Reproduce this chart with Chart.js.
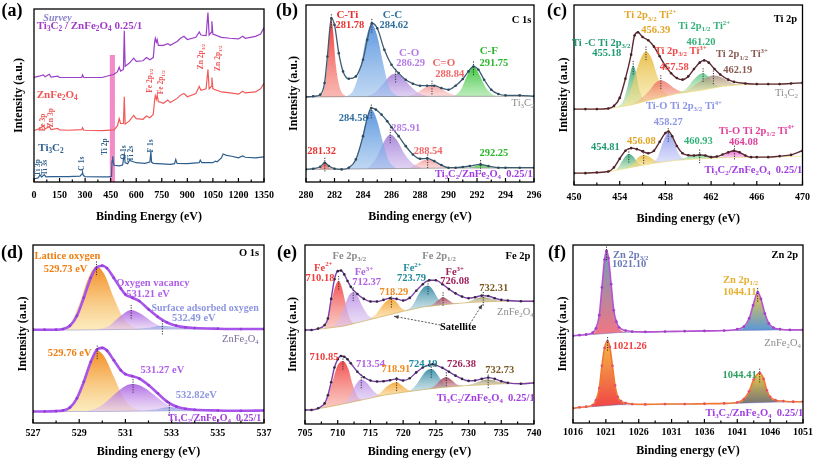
<!DOCTYPE html>
<html><head><meta charset="utf-8">
<script src="https://cdn.jsdelivr.net/npm/chart.js@4.4.1/dist/chart.umd.min.js"></script>
<style>
html,body{margin:0;padding:0;background:#fff;}
#wrap{position:relative;width:817px;height:464px;overflow:hidden;background:#fff;}
#wrap canvas{position:absolute;left:0;top:0;}
</style></head><body><div id="wrap">
<canvas id="pa" width="817" height="464"></canvas>
<canvas id="pb" width="817" height="464"></canvas>
<canvas id="pc" width="817" height="464"></canvas>
<canvas id="pd" width="817" height="464"></canvas>
<canvas id="pe" width="817" height="464"></canvas>
<canvas id="pf" width="817" height="464"></canvas>
</div>
<script>
// ---------------- DATA ----------------
// (a) survey
const aTicks=[0,150,300,450,600,750,900,1050,1200,1350];
const aMinor=[75,225,375,525,675,825,975,1125,1275];
const aE_T=[0,20,25,35,45,60,70,100,200,270,282,285,290,300,400,440,455,458,462,466,470,500,520,530,535,550,563,570,600,650,680,686,690,700,800,825,832,840,900,970,976,985,1050,1065,1075,1100,1110,1130,1160,1200,1225,1240,1300,1350];
const aY_T=[10,12,13,22,15,23,16,17,17,18,25,30,20,17,16,16,18,65,80,60,52,50,53,85,60,57,70,65,60,58,62,95,62,58,55,57,70,58,57,60,68,60,60,65,63,75,87,83,80,75,81,77,75,78];
const aE_ZC=[0,30,55,65,90,100,140,150,200,280,285,292,400,470,490,500,508,525,530,535,560,585,600,640,660,680,700,708,712,718,723,730,760,785,800,840,860,880,900,950,970,980,1010,1021,1028,1040,1044,1050,1100,1150,1200,1225,1240,1300,1330,1350];
const aY_Z=[160,165,175,165,173,163,167,162,161,163,169,161,160,162,175,197,182,182,265,180,190,207,197,195,205,200,210,255,268,257,270,250,245,255,247,260,270,275,265,275,297,285,290,350,290,297,325,290,280,277,273,282,277,280,290,307];
const aY_C=[325,329,333,327,335,326,329,325,325,325,333,325,325,335,343,357,345,350,470,360,370,385,375,377,387,380,387,435,447,435,443,425,425,430,425,437,447,453,443,450,467,457,455,527,457,465,500,460,450,447,445,453,447,453,460,480];
const aBand=[445,475];

// (b) C 1s
const bTicks=[280,282,284,286,288,290,292,294,296];
const bMinor=[281,283,285,287,289,291,293,295];
const bTopX=[280,280.5,281,281.3,281.5,281.78,282,282.3,282.6,283,283.5,284,284.3,284.62,285,285.5,286,286.5,287,287.5,288,288.5,289,289.5,290,290.5,291,291.4,291.75,292.1,292.5,293,293.5,294,295,296];
const bTopY=[256,258,263,298,378,493,473,388,333,311,318,368,428,478,463,398,353,328,308,296,290,290,290,283,278,290,310,333,348,338,308,278,265,261,261,258];
const bBotX=[280,280.5,281,281.32,281.6,282,282.5,283,283.5,284,284.3,284.58,284.9,285.3,285.7,286,286.5,287,287.5,288,288.5,289,289.5,290,290.5,291,291.5,292.25,292.8,293.5,294,295,296];
const bBotY=[38,40,46,58,48,40,38,43,68,138,193,223,218,203,183,165,138,108,83,70,71,63,51,43,43,45,48,53,48,43,43,43,43];
const bTopBg=[[280,256],[283,257],[290,258],[296,258]];
const bBotBg=[[280,38],[283,39],[290,42],[296,42]];
const bT_CTi=[[280.9,256],[281.2,270],[281.45,340],[281.65,455],[281.78,490],[281.9,455],[282.1,350],[282.4,280],[282.8,258]];
const bT_CC=[[282.8,257],[283.3,275],[283.8,340],[284.2,430],[284.62,476],[285.0,440],[285.4,360],[285.8,290],[286.3,262],[286.8,257]];
const bT_CO=[[284.2,257],[284.8,268],[285.4,295],[285.9,320],[286.29,326],[286.8,315],[287.3,290],[287.9,268],[288.6,258]];
const bT_CdO=[[287.2,258],[287.8,268],[288.4,285],[288.84,290],[289.3,285],[289.9,270],[290.6,259]];
const bT_CF=[[290.4,258],[290.9,280],[291.3,320],[291.75,348],[292.2,320],[292.6,285],[293.1,263],[293.6,258]];
const bB_CTi=[[280.8,38],[281.1,45],[281.32,58],[281.55,45],[281.85,39]];
const bB_CC=[[282.7,39],[283.3,55],[283.8,110],[284.2,180],[284.58,218],[284.95,190],[285.4,120],[285.8,65],[286.3,42]];
const bB_CO=[[284.3,40],[284.9,70],[285.4,115],[285.91,143],[286.4,125],[286.9,85],[287.5,55],[288.1,42]];
const bB_CdO=[[287.2,41],[287.8,55],[288.2,65],[288.54,68],[288.9,64],[289.4,52],[290.0,42]];
const bB_CF=[[291.4,42],[291.9,48],[292.25,51],[292.6,48],[293.1,42]];

// (c) Ti 2p
const cTicks=[450,454,458,462,466,470];
const cMinor=[452,456,460,464,468];
const cTopX=[450,451,452,453,453.5,454,454.5,455,455.3,455.6,456,456.5,457,457.5,458,458.5,459,459.5,460,460.5,461,461.4,461.8,462.3,462.8,463.5,464,465,466,467,468,469,470];
const cTopY=[237,237,237,239,247,272,332,407,467,477,462,452,432,402,372,349,334,329,339,362,382,389,382,362,345,329,322,317,315,315,315,317,319];
const cBotX=[450,451,452,453,453.5,454,454.5,455,455.5,456,456.5,457,457.5,458,458.27,458.6,459,459.5,460,460.5,461,461.5,462,462.5,463,463.5,464,464.5,465,465.5,466,467,468,469,470];
const cBotY=[37,37,39,42,55,82,107,115,112,105,99,107,135,162,167,152,122,99,93,92,94,92,87,89,95,102,107,102,92,87,87,87,90,94,107];
const cTopBg=[[450,237],[453,238],[455,250],[457,268],[459,285],[461,295],[463,308],[465,314],[470,318]];
const cBotBg=[[450,37],[453,41],[455,55],[457,68],[459,77],[461,82],[463,85],[466,87],[470,90]];
const cT_TiC=[[453.8,244],[454.3,262],[454.7,310],[455.0,360],[455.18,372],[455.4,355],[455.7,300],[456.1,268],[456.5,263]];
const cT_Ti2=[[454.2,245],[454.8,280],[455.4,350],[455.9,400],[456.3,417],[456.8,395],[457.3,340],[457.8,295],[458.3,280]];
const cT_Ti3=[[455.0,250],[455.8,268],[456.6,295],[457.1,318],[457.6,327],[458.2,318],[458.8,302],[459.5,292],[460.2,292]];
const cT_Ti2b=[[459.0,286],[459.8,300],[460.5,330],[461.0,346],[461.3,349],[461.7,340],[462.3,315],[462.9,308],[463.4,310]];
const cT_Ti3b=[[459.6,290],[460.5,310],[461.3,330],[461.8,339],[462.2,342],[462.8,338],[463.5,325],[464.2,315],[464.9,314]];
const cB_TiC=[[453.6,44],[454.0,62],[454.4,85],[454.8,97],[455.2,88],[455.6,68],[456.0,61]];
const cB_Ti2=[[454.6,52],[455.2,68],[455.7,88],[456.1,94],[456.6,88],[457.1,76],[457.7,71]];
const cB_Ti4=[[456.8,67],[457.3,85],[457.8,135],[458.25,162],[458.7,140],[459.2,95],[459.8,80]];
const cB_Ti2b=[[458.8,77],[459.6,83],[460.3,92],[461.0,95],[461.7,93],[462.5,88],[463.4,86]];
const cB_Ti4b=[[462.4,84],[463.0,90],[463.6,103],[464.05,107],[464.6,100],[465.2,90],[465.9,87]];

// (d) O 1s
const dTicks=[527,529,531,533,535,537];
const dMinor=[528,530,532,534,536];
const dTopX=[527,527.5,528,528.3,528.6,528.9,529.2,529.5,529.73,530,530.2,530.5,530.8,531,531.3,531.6,532,532.4,532.8,533.2,533.6,534,535,536,537];
const dTopY=[283,283,283,285,295,325,380,440,470,477,470,440,408,390,380,370,345,322,305,295,290,288,286,285,285];
const dBotX=[527,527.5,528,528.3,528.6,528.9,529.2,529.5,529.76,530,530.2,530.5,530.8,531,531.3,531.6,532,532.4,532.8,533.2,533.6,534,535,536,537];
const dBotY=[35,35,36,38,47,75,125,185,222,228,220,190,160,148,142,135,115,90,65,50,43,40,38,37,38];
const dTopBg=[[527,282],[529,282],[531,284],[533,285],[537,285]];
const dBotBg=[[527,35],[530,35],[533,37],[537,38]];
const dT_Lat=[[528.2,282],[528.6,300],[529.0,360],[529.4,440],[529.75,475],[530.1,450],[530.5,380],[530.9,320],[531.3,292],[531.7,284]];
const dT_Vac=[[529.8,283],[530.3,295],[530.8,325],[531.25,343],[531.7,330],[532.2,305],[532.7,290],[533.2,285]];
const dT_Sur=[[531.3,284],[531.9,288],[532.6,295],[533.3,290],[534.0,286]];
const dB_Lat=[[528.3,35],[528.7,55],[529.1,115],[529.45,185],[529.78,220],[530.1,200],[530.5,140],[530.9,80],[531.3,47],[531.7,37]];
const dB_Vac=[[529.3,35],[529.9,50],[530.5,85],[531.0,112],[531.33,118],[531.8,108],[532.3,82],[532.9,52],[533.6,38]];
const dB_Sur=[[531.6,36],[532.2,40],[532.9,48],[533.6,42],[534.4,38]];

// (e) Fe 2p
const eTicks=[705,710,715,720,725,730,735,740];
const eMinor=[707.5,712.5,717.5,722.5,727.5,732.5,737.5];
const eTopX=[705,706,707,708,708.5,709,709.5,710,710.5,711,711.5,712,713,714,715,716,717,718,719,720,721,722,723,724,725,726,727,728,729,730,731,732,733,734,735,736,738,740];
const eTopY=[288,288,292,303,323,383,443,468,470,458,438,420,398,383,375,375,380,385,383,378,386,408,428,440,440,428,413,400,390,385,388,393,392,385,380,378,376,376];
const eBotX=[705,706,707,708,708.5,709,709.5,710,710.5,711,711.5,712,713,714,715,716,717,718,719,720,721,722,723,724,724.5,725,726,727,728,729,730,731,732,733,734,735,736,738,740];
const eBotY=[43,43,48,63,88,128,173,198,208,206,198,186,160,143,133,130,131,134,138,133,140,158,173,181,183,180,172,160,148,138,132,133,138,142,138,131,126,123,126];
const eTopBg=[[705,288],[708,292],[711,300],[714,315],[717,330],[720,345],[723,358],[726,365],[730,372],[735,376],[740,376]];
const eBotBg=[[705,43],[708,50],[711,62],[714,75],[717,88],[720,97],[723,105],[726,112],[730,118],[735,123],[740,126]];
const eT_Fe2=[[707.8,292],[708.5,320],[709.2,390],[709.8,430],[710.15,438],[710.6,420],[711.2,370],[711.8,325],[712.5,306]];
const eT_Fe3=[[709.3,296],[710.2,320],[711.0,360],[711.7,393],[712.37,403],[713.0,393],[713.8,360],[714.8,330],[716.0,324]];
const eT_Sat=[[714.8,319],[715.8,335],[716.8,362],[717.6,378],[718.2,383],[718.9,375],[719.7,355],[720.5,348],[721.2,350]];
const eT_Fe2b=[[720.4,347],[721.4,362],[722.3,395],[723.1,418],[723.8,423],[724.5,412],[725.3,385],[726.0,368],[726.7,366]];
const eT_Fe3b=[[723.6,359],[724.5,365],[725.3,378],[726.1,388],[726.9,380],[727.8,370],[728.7,370]];
const eT_Satb=[[729.4,371],[730.4,378],[731.4,386],[732.25,389],[733.2,385],[734.2,379],[735.3,376]];
const eB_Fe2=[[707.5,49],[708.3,70],[709.2,130],[710.0,180],[710.8,193],[711.6,170],[712.3,120],[713.0,85],[713.7,73]];
const eB_Fe3=[[710.8,61],[711.7,80],[712.6,115],[713.6,136],[714.5,125],[715.5,100],[716.4,89],[717.2,89]];
const eB_Sat=[[715.4,81],[716.5,95],[717.5,115],[718.3,125],[719.0,128],[719.8,118],[720.7,105],[721.5,101]];
const eB_Fe2b=[[721.0,100],[722.0,120],[723.0,150],[723.7,165],[724.3,168],[725.0,158],[725.8,135],[726.7,117],[727.6,115]];
const eB_Fe3b=[[724.0,107],[725.0,120],[725.9,138],[726.6,143],[727.4,135],[728.3,120],[729.2,117]];
const eB_Satb=[[729.7,118],[730.8,124],[731.9,132],[733.0,136],[734.1,132],[735.2,126],[736.5,124]];

// (f) Zn 2p
const fTicks=[1016,1021,1026,1031,1036,1041,1046,1051];
const fMinor=[1018.5,1023.5,1028.5,1033.5,1038.5,1043.5,1048.5];
const fTopX=[1016,1017,1018,1019,1019.5,1020,1020.4,1020.8,1021.1,1021.4,1021.8,1022.2,1022.6,1023,1024,1025,1027,1030,1033,1036,1039,1041,1042,1042.8,1043.4,1044.11,1044.6,1045.2,1045.8,1046.5,1047.5,1049,1051];
const fTopY=[267,269,271,277,290,330,415,500,527,505,425,345,310,293,283,280,279,280,281,282,283,287,295,320,360,400,380,335,305,292,287,285,285];
const fBotX=[1016,1017,1018,1019,1019.5,1020,1020.4,1020.8,1021.26,1021.6,1022,1022.4,1022.8,1023.3,1024,1025,1027,1030,1033,1036,1039,1041,1042,1042.8,1043.5,1044.41,1045,1045.5,1046,1046.8,1048,1049.5,1051];
const fBotY=[45,48,50,55,70,107,175,230,250,233,175,115,80,67,61,58,57,58,58,59,60,63,73,97,133,153,135,100,80,70,67,65,65];
const fTopBg=[[1016,267],[1019,271],[1023,277],[1030,279],[1040,283],[1047,285],[1051,285]];
const fBotBg=[[1016,45],[1019,50],[1023,56],[1030,57],[1040,60],[1047,64],[1051,65]];
const fT_Zn3=[[1018.8,272],[1019.5,285],[1020.0,325],[1020.4,410],[1020.8,495],[1021.1,525],[1021.4,500],[1021.8,420],[1022.2,340],[1022.6,305],[1023.2,285],[1024.0,279]];
const fT_Zn1=[[1041.2,285],[1042.0,292],[1042.8,318],[1043.4,358],[1044.1,398],[1044.6,378],[1045.2,333],[1045.8,303],[1046.5,290],[1047.3,287]];
const fB_Zn3=[[1018.8,51],[1019.5,68],[1020.0,105],[1020.4,172],[1020.8,228],[1021.26,248],[1021.6,231],[1022.0,173],[1022.4,113],[1022.8,78],[1023.3,64],[1024.0,58]];
const fB_Zn1=[[1041.2,61],[1042.0,71],[1042.8,95],[1043.5,131],[1044.41,151],[1045.0,133],[1045.5,98],[1046.0,78],[1046.8,68],[1047.5,65]];

// ---------------- HELPERS ----------------
const FAM="'Liberation Serif','Times New Roman',Times,serif";
Chart.defaults.font.family=FAM;
const COMPOSITE='Ti_{3}C_{2}/ZnFe_{2}O_{4}  0.25/1';

function parseRich(t){const out=[];let i=0,buf='';
  while(i<t.length){const ch=t[i];
    if((ch==='_'||ch==='^')&&t[i+1]==='{'){if(buf){out.push({s:buf,m:0});buf='';}
      const j=t.indexOf('}',i+2);out.push({s:t.slice(i+2,j),m:ch==='_'?1:2});i=j+1;}
    else{buf+=ch;i++;}}
  if(buf)out.push({s:buf,m:0});return out;}
function drawRich(ctx,t,x,y,size,color,o){
  o=o||{};const segs=parseRich(t);
  const w=o.b===false?'':'bold ';const it=o.i?'italic ':'';
  const f0=it+w+size+'px '+FAM, f1=it+w+(size*0.66).toFixed(1)+'px '+FAM;
  let tot=0;segs.forEach(s=>{ctx.font=s.m?f1:f0;s.w=ctx.measureText(s.s).width;tot+=s.w;});
  ctx.save();ctx.translate(x,y);if(o.rot)ctx.rotate(o.rot*Math.PI/180);
  let cx=o.a==='left'?0:o.a==='right'?-tot:-tot/2;
  ctx.fillStyle=color;ctx.textBaseline='middle';
  segs.forEach(s=>{ctx.font=s.m?f1:f0;const dy=s.m===1?size*0.3:s.m===2?-size*0.32:0;ctx.fillText(s.s,cx,dy);cx+=s.w;});
  ctx.restore();}

function makeDecor(D){return{
  id:'decor',
  beforeDatasetsDraw(chart){const {ctx,chartArea:ca,scales:{x,y}}=chart;
    if(D.band){ctx.save();ctx.fillStyle='rgba(240,110,185,0.8)';
      const x1=x.getPixelForValue(D.band[0]),x2=x.getPixelForValue(D.band[1]),yt=y.getPixelForValue(D.bandTop);
      ctx.fillRect(x1,yt,x2-x1,ca.bottom-yt);ctx.restore();}},
  afterDatasetsDraw(chart){const {ctx,chartArea:ca,scales:{x,y}}=chart;ctx.save();
    chart.data.datasets.forEach(ds=>{if(!ds.mark)return;let m=ds.data[0];ds.data.forEach(p=>{if(p.y>m.y)m=p;});
      const px=x.getPixelForValue(m.x),py=y.getPixelForValue(m.y);
      ctx.strokeStyle='#333';ctx.lineWidth=1;ctx.setLineDash([1.2,1.3]);ctx.beginPath();ctx.moveTo(px,py-5);ctx.lineTo(px,py+9);ctx.stroke();});
    ctx.setLineDash([]);
    (D.arrows||[]).forEach(a=>{const x1=x.getPixelForValue(a[0]),y1=y.getPixelForValue(a[1]),x2=x.getPixelForValue(a[2]),y2=y.getPixelForValue(a[3]);
      ctx.strokeStyle='#444';ctx.fillStyle='#444';ctx.lineWidth=0.9;ctx.setLineDash([2,1.5]);
      ctx.beginPath();ctx.moveTo(x1,y1);ctx.lineTo(x2,y2);ctx.stroke();ctx.setLineDash([]);
      const ang=Math.atan2(y2-y1,x2-x1);ctx.beginPath();ctx.moveTo(x2,y2);
      ctx.lineTo(x2-5*Math.cos(ang-0.4),y2-5*Math.sin(ang-0.4));ctx.lineTo(x2-5*Math.cos(ang+0.4),y2-5*Math.sin(ang+0.4));ctx.closePath();ctx.fill();});
    ctx.strokeStyle='#000';ctx.lineWidth=1.3;ctx.strokeRect(ca.left,ca.top,ca.right-ca.left,ca.bottom-ca.top);
    ctx.lineWidth=1.2;
    D.major.forEach(v=>{const px=x.getPixelForValue(v);ctx.beginPath();ctx.moveTo(px,ca.bottom);ctx.lineTo(px,ca.bottom-4);ctx.stroke();});
    D.minor.forEach(v=>{const px=x.getPixelForValue(v);ctx.beginPath();ctx.moveTo(px,ca.bottom);ctx.lineTo(px,ca.bottom-2.5);ctx.stroke();});
    (D.labels||[]).forEach(L=>drawRich(ctx,L.t,x.getPixelForValue(L.x),y.getPixelForValue(L.y),L.s||10.5,L.c||'#000',L));
    drawRich(ctx,D.letter[0],D.letter[1],D.letter[2],18,'#000',{});
    ctx.restore();}};}

const pts=(xs,ys)=>xs.map((x,i)=>({x,y:ys[i]}));
const pairs=a=>a.map(p=>({x:p[0],y:p[1]}));
function rawDs(xs,ys,col,ptCol,bw,pr){return{data:pts(xs,ys),borderColor:col,borderWidth:bw,pointRadius:pr,pointBackgroundColor:ptCol,pointBorderWidth:0,fill:false,cubicInterpolationMode:'monotone'};}
function lineDs(xs,ys,col,bw){return{data:pts(xs,ys),borderColor:col,borderWidth:bw,pointRadius:0,fill:false,tension:0};}
function bgDs(a,col){return{data:pairs(a),borderColor:col||'rgba(70,70,70,0.55)',borderWidth:0.8,pointRadius:0,fill:false,tension:0};}
function grad(top,bot){return(c)=>{const ch=c.chart;if(!ch.chartArea||!c.dataset)return top;
  const ys=c.dataset.data.map(p=>p.y);const yT=ch.scales.y.getPixelForValue(Math.max(...ys)),yB=ch.scales.y.getPixelForValue(Math.min(...ys));
  const g=ch.ctx.createLinearGradient(0,yT,0,yB+1);g.addColorStop(0,top);g.addColorStop(1,bot);return g;};}
function compDs(a,top,bot,target,line){return{data:pairs(a),borderColor:line||'rgba(0,0,0,0)',borderWidth:0.7,pointRadius:0,fill:{target},backgroundColor:grad(top,bot),cubicInterpolationMode:'monotone',mark:true};}

function makePanel(id,P){
  const TF=10,XF=12,YF=12;const R=P.rect;
  const p=Math.max(0,P.tickCY-R.b-TF/2);
  const tpt=Math.max(0,P.titleCY-(R.b+p+TF)-XF/2);
  const xAxisH=p+TF+tpt+XF;
  const ypb=Math.max(0,R.l-P.yTitleCX-YF/2);
  const yW=YF+ypb;
  new Chart(document.getElementById(id),{type:'line',data:{datasets:P.datasets},
    options:{responsive:false,animation:false,events:[],
      layout:{padding:{left:R.l-yW,right:817-R.r,top:R.t,bottom:464-R.b-xAxisH}},
      plugins:{legend:{display:false},tooltip:{enabled:false}},
      scales:{
        x:{type:'linear',min:P.xr[0],max:P.xr[1],afterBuildTicks:s=>{s.ticks=P.decor.major.map(v=>({value:v}));},
          grid:{display:false,drawTicks:false},border:{display:false},
          ticks:{padding:p,autoSkip:false,maxRotation:0,color:'#000',font:{family:FAM,size:TF,weight:'bold',lineHeight:1},callback:v=>String(v)},
          title:{display:true,text:P.xTitle||'Binding energy (eV)',color:'#000',font:{family:FAM,size:XF,weight:'bold',lineHeight:1},padding:{top:tpt,bottom:0}}},
        y:{type:'linear',min:0,max:P.ymax,grid:{display:false,drawTicks:false},border:{display:false},ticks:{display:false},
          title:{display:true,text:'Intensity (a.u.)',color:'#000',font:{family:FAM,size:YF,weight:'bold',lineHeight:1},padding:{top:0,bottom:ypb}}}}},
    plugins:[makeDecor(P.decor)]});}

// ---------------- PANELS ----------------
// (a)
makePanel('pa',{rect:{l:34,t:9,r:264,b:190},tickCY:203,titleCY:217,yTitleCX:19,xr:[0,1350],ymax:538,xTitle:'Binding Energy (eV)',
  datasets:[lineDs(aE_ZC,aY_C,'#9b3fc6',1.2),lineDs(aE_ZC,aY_Z,'#f25a5a',1.2),lineDs(aE_T,aY_T,'#2e5e8e',1.2)],
  decor:{major:aTicks,minor:aMinor,band:aBand,bandTop:395,letter:['(a)',12,11],labels:[
    {t:'Survey',x:55,y:510,c:'#8a82c8',s:10,i:true,a:'left'},
    {t:'Ti_{3}C_{2} / ZnFe_{2}O_{4} 0.25/1',x:16,y:485,c:'#a03ccc',s:11,a:'left'},
    {t:'ZnFe_{2}O_{4}',x:16,y:270,c:'#f05555',s:11,a:'left'},
    {t:'Ti_{3}C_{2}',x:25,y:105,c:'#2e5e8e',s:11,a:'left'},
    {t:'Fe 3p',x:51,y:185,c:'#f05555',s:7.5,rot:-90},
    {t:'Zn 3p',x:100,y:200,c:'#f05555',s:7.5,rot:-90},
    {t:'Ti 3p',x:21,y:45,c:'#2e5e8e',s:7.5,rot:-90},
    {t:'Ti 3s',x:64,y:45,c:'#2e5e8e',s:7.5,rot:-90},
    {t:'C 1s',x:280,y:57,c:'#2e5e8e',s:7.5,rot:-90},
    {t:'Ti 2p',x:418,y:110,c:'#2e5e8e',s:7.5,rot:-90},
    {t:'O 1s',x:527,y:92,c:'#2e5e8e',s:7.5,rot:-90},
    {t:'Ti 2s',x:572,y:88,c:'#2e5e8e',s:7.5,rot:-90},
    {t:'F 1s',x:690,y:112,c:'#2e5e8e',s:7.5,rot:-90},
    {t:'Fe 2p_{3/2}',x:680,y:315,c:'#f05555',s:7.5,rot:-90},
    {t:'Fe 2p_{1/2}',x:748,y:310,c:'#f05555',s:7.5,rot:-90},
    {t:'Zn 2p_{3/2}',x:983,y:390,c:'#f05555',s:7.5,rot:-90},
    {t:'Zn 2p_{1/2}',x:1080,y:385,c:'#f05555',s:7.5,rot:-90}]}});

// (b)
makePanel('pb',{rect:{l:306,t:5,r:534,b:190},tickCY:203,titleCY:217,yTitleCX:294,xr:[280,296],ymax:533,
  datasets:[rawDs(bTopX,bTopY,'#3d5c72','#2f4a5e',1.3,1.3),rawDs(bBotX,bBotY,'#3d5c72','#2f4a5e',1.3,1.3),bgDs(bTopBg),bgDs(bBotBg),
    compDs(bT_CTi,'rgba(240,45,40,0.95)','rgba(245,140,130,0.6)',2),
    compDs(bT_CC,'rgba(75,140,220,0.9)','rgba(150,190,235,0.6)',2),
    compDs(bT_CO,'rgba(150,110,210,0.8)','rgba(200,175,235,0.55)',2),
    compDs(bT_CdO,'rgba(245,150,150,0.85)','rgba(250,200,200,0.55)',2),
    compDs(bT_CF,'rgba(50,195,50,0.95)','rgba(150,225,150,0.6)',2),
    compDs(bB_CTi,'rgba(240,45,40,0.95)','rgba(245,140,130,0.6)',3),
    compDs(bB_CC,'rgba(75,140,220,0.9)','rgba(150,190,235,0.6)',3),
    compDs(bB_CO,'rgba(150,110,210,0.8)','rgba(200,175,235,0.55)',3),
    compDs(bB_CdO,'rgba(245,150,150,0.85)','rgba(250,200,200,0.55)',3),
    compDs(bB_CF,'rgba(50,195,50,0.95)','rgba(150,225,150,0.6)',3)],
  decor:{major:bTicks,minor:bMinor,letter:['(b)',287,11],labels:[
    {t:'C-Ti',x:282.9,y:503,c:'#e8322f',s:11},{t:'281.78',x:283.08,y:473,c:'#e8322f'},
    {t:'C-C',x:286.07,y:503,c:'#2e6f9e',s:11},{t:'284.62',x:286.17,y:473,c:'#2e6f9e'},
    {t:'C-O',x:287.24,y:388,c:'#b57be6',s:11},{t:'286.29',x:287.34,y:358,c:'#b57be6'},
    {t:'C=O',x:289.67,y:358,c:'#f06565',s:11},{t:'288.84',x:290.09,y:323,c:'#f06565'},
    {t:'C-F',x:292.83,y:393,c:'#2bb52b',s:11},{t:'291.75',x:293.18,y:358,c:'#2bb52b'},
    {t:'C 1s',x:295.12,y:488,c:'#000'},
    {t:'Ti_{3}C_{2}',x:295.23,y:238,c:'#8c8c8c',b:false},
    {t:'284.58',x:283.32,y:193,c:'#2e6f9e'},{t:'285.91',x:287.0,y:163,c:'#b57be6'},
    {t:'281.32',x:281.1,y:93,c:'#e8322f'},{t:'288.54',x:288.57,y:93,c:'#f06565'},
    {t:'292.25',x:293.18,y:86,c:'#2bb52b'},
    {t:COMPOSITE,x:292.48,y:23,c:'#a13de0'}]}});

// (c)
makePanel('pc',{rect:{l:574,t:5,r:807,b:192},tickCY:204,titleCY:219,yTitleCX:564,xr:[450,470],ymax:562,
  datasets:[rawDs(cTopX,cTopY,'#5b2a33','#4a2028',1.4,1.3),rawDs(cBotX,cBotY,'#5b2a33','#4a2028',1.4,1.3),bgDs(cTopBg,'rgba(240,220,120,0.8)'),bgDs(cBotBg,'rgba(240,220,120,0.8)'),
    compDs(cT_Ti3b,'rgba(160,135,120,0.8)','rgba(235,225,160,0.5)',2),
    compDs(cT_Ti2b,'rgba(80,195,130,0.8)','rgba(200,230,170,0.5)',2),
    compDs(cT_Ti3,'rgba(240,105,95,0.8)','rgba(245,200,160,0.5)',2),
    compDs(cT_Ti2,'rgba(230,180,50,0.85)','rgba(245,230,150,0.55)',2),
    compDs(cT_TiC,'rgba(40,160,120,0.85)','rgba(190,225,160,0.55)',2),
    compDs(cB_Ti4b,'rgba(225,70,200,0.85)','rgba(240,190,230,0.5)',3),
    compDs(cB_Ti2b,'rgba(80,195,130,0.8)','rgba(200,230,170,0.5)',3),
    compDs(cB_Ti4,'rgba(140,155,240,0.9)','rgba(200,205,245,0.55)',3),
    compDs(cB_Ti2,'rgba(230,180,50,0.85)','rgba(245,230,150,0.55)',3),
    compDs(cB_TiC,'rgba(40,160,120,0.85)','rgba(190,225,160,0.55)',3)],
  decor:{major:cTicks,minor:cMinor,letter:['(c)',557,11],labels:[
    {t:'Ti 2p_{3/2} Ti^{2+}',x:456.68,y:529,c:'#e0a526'},{t:'456.39',x:457.16,y:482,c:'#e0a526'},
    {t:'Ti -C Ti 2p_{3/2}',x:452.38,y:442,c:'#1f9a72'},{t:'455.18',x:452.87,y:412,c:'#1f9a72'},
    {t:'Ti 2p_{3/2} Ti^{3+}',x:459.34,y:417,c:'#f04a48'},{t:'457.58',x:458.77,y:367,c:'#f04a48'},
    {t:'Ti 2p_{1/2} Ti^{2+}',x:461.4,y:495,c:'#35b27a'},{t:'461.20',x:461.12,y:445,c:'#35b27a'},
    {t:'Ti 2p_{1/2} Ti^{3+}',x:464.7,y:407,c:'#8a5a52'},{t:'462.19',x:464.33,y:359,c:'#8a5a52'},
    {t:'Ti 2p',x:468.5,y:517,c:'#000'},
    {t:'Ti_{3}C_{2}',x:468.6,y:287,c:'#8c8c8c',b:false},
    {t:'Ti-O Ti 2p_{3/2} Ti^{4+}',x:459.63,y:245,c:'#8c95e6'},{t:'458.27',x:458.25,y:195,c:'#8c95e6'},
    {t:'454.81',x:452.75,y:117,c:'#1f9a72'},{t:'456.08',x:455.9,y:137,c:'#e0a526'},
    {t:'460.93',x:460.89,y:135,c:'#35b27a'},
    {t:'Ti-O Ti 2p_{1/2} Ti^{4+}',x:466.0,y:169,c:'#e0409a'},{t:'464.08',x:464.84,y:132,c:'#e0409a'},
    {t:COMPOSITE,x:465.7,y:47,c:'#a13de0'}]}});

// (d)
makePanel('pd',{rect:{l:33,t:245,r:264,b:428},tickCY:438,titleCY:452,yTitleCX:23,xr:[527,537],ymax:540,
  datasets:[rawDs(dTopX,dTopY,'#a854ea','#9440d8',2.6,1.4),rawDs(dBotX,dBotY,'#a854ea','#9440d8',2.6,1.4),bgDs(dTopBg,'rgba(120,120,200,0.6)'),bgDs(dBotBg,'rgba(120,120,200,0.6)'),
    compDs(dT_Sur,'rgba(130,150,225,0.8)','rgba(200,205,240,0.55)',2),
    compDs(dT_Vac,'rgba(165,85,225,0.85)','rgba(225,200,240,0.55)',2),
    compDs(dT_Lat,'rgba(242,135,25,0.95)','rgba(250,225,150,0.6)',2),
    compDs(dB_Sur,'rgba(130,150,225,0.8)','rgba(200,205,240,0.55)',3),
    compDs(dB_Vac,'rgba(165,85,225,0.85)','rgba(225,200,240,0.55)',3),
    compDs(dB_Lat,'rgba(242,135,25,0.95)','rgba(250,225,150,0.6)',3)],
  decor:{major:dTicks,minor:dMinor,letter:['(d)',12,253],labels:[
    {t:'Lattice oxygen',x:528.49,y:505,c:'#f07d10'},{t:'529.73 eV',x:528.41,y:465,c:'#f07d10'},
    {t:'O 1s',x:536.35,y:515,c:'#000'},
    {t:'Oxygen vacancy',x:532.19,y:425,c:'#b060e8'},{t:'531.21 eV',x:531.98,y:392,c:'#b060e8'},
    {t:'Surface adsorbed oxygen',x:534.45,y:348,c:'#8c95e0',s:10},{t:'532.49 eV',x:533.96,y:318,c:'#8c95e0'},
    {t:'ZnFe_{2}O_{4}',x:535.98,y:255,c:'#7a6c9a',b:false},
    {t:'529.76 eV',x:528.59,y:210,c:'#f07d10'},{t:'531.27 eV',x:532.6,y:160,c:'#b060e8'},
    {t:'532.82eV',x:534.07,y:85,c:'#8c95e0'},
    {t:COMPOSITE,x:534.86,y:15,c:'#a13de0',s:10}]}});

// (e)
makePanel('pe',{rect:{l:305,t:245,r:534,b:428},tickCY:437,titleCY:452,yTitleCX:293,xr:[705,740],ymax:548,
  datasets:[rawDs(eTopX,eTopY,'#7a3fa8','#302a38',1.4,1.3),rawDs(eBotX,eBotY,'#7a3fa8','#302a38',1.4,1.3),bgDs(eTopBg,'rgba(200,170,80,0.8)'),bgDs(eBotBg,'rgba(200,170,80,0.8)'),
    compDs(eT_Satb,'rgba(150,140,105,0.85)','rgba(215,205,160,0.5)',2),
    compDs(eT_Fe3b,'rgba(160,50,80,0.85)','rgba(210,150,150,0.5)',2),
    compDs(eT_Fe2b,'rgba(45,135,165,0.9)','rgba(160,200,210,0.5)',2),
    compDs(eT_Sat,'rgba(245,160,40,0.9)','rgba(250,215,150,0.55)',2),
    compDs(eT_Fe3,'rgba(185,138,230,0.85)','rgba(220,200,240,0.5)',2),
    compDs(eT_Fe2,'rgba(242,70,70,0.95)','rgba(245,160,150,0.55)',2),
    compDs(eB_Satb,'rgba(150,140,105,0.85)','rgba(215,205,160,0.5)',3),
    compDs(eB_Fe3b,'rgba(160,50,80,0.85)','rgba(210,150,150,0.5)',3),
    compDs(eB_Fe2b,'rgba(45,135,165,0.9)','rgba(160,200,210,0.5)',3),
    compDs(eB_Sat,'rgba(245,160,40,0.9)','rgba(250,215,150,0.55)',3),
    compDs(eB_Fe3,'rgba(185,138,230,0.85)','rgba(220,200,240,0.5)',3),
    compDs(eB_Fe2,'rgba(242,70,70,0.95)','rgba(245,160,150,0.55)',3)],
  decor:{major:eTicks,minor:eMinor,letter:['(e)',287,253],arrows:[[725.7,303,718.6,330],[730.2,306,732.1,366]],labels:[
    {t:'Fe 2p_{3/2}',x:711.77,y:513,c:'#8a8a8a'},{t:'Fe 2p_{1/2}',x:725.5,y:513,c:'#8a8a8a'},
    {t:'Fe 2p',x:737.55,y:513,c:'#000'},
    {t:'Fe^{2+}',x:707.8,y:478,c:'#f03c3c'},{t:'710.18',x:707.29,y:446,c:'#f03c3c'},
    {t:'Fe^{3+}',x:714.0,y:463,c:'#b060e0'},{t:'712.37',x:714.41,y:433,c:'#b060e0'},
    {t:'Fe^{2+}',x:721.43,y:476,c:'#1f8a9a'},{t:'723.79',x:721.28,y:445,c:'#1f8a9a'},
    {t:'Fe^{3+}',x:727.89,y:463,c:'#a0205a'},{t:'726.08',x:727.89,y:438,c:'#a0205a'},
    {t:'718.29',x:718.58,y:403,c:'#f08a1e'},{t:'732.31',x:733.84,y:416,c:'#7a5a20'},
    {t:'ZnFe_{2}O_{4}',x:737.15,y:343,c:'#8c8c8c',b:false},
    {t:'Satellite',x:728.4,y:296,c:'#000'},
    {t:'710.85',x:707.9,y:203,c:'#f03c3c'},{t:'713.54',x:715.02,y:183,c:'#b060e0'},
    {t:'718.91',x:718.89,y:168,c:'#f08a1e'},{t:'724.19',x:723.06,y:183,c:'#1f8a9a'},
    {t:'726.38',x:728.91,y:183,c:'#a0205a'},{t:'732.73',x:734.76,y:163,c:'#7a5a20'},
    {t:COMPOSITE,x:732.62,y:78,c:'#a13de0'}]}});

// (f)
makePanel('pf',{rect:{l:573,t:245,r:806,b:427},tickCY:436,titleCY:451,yTitleCX:563,xr:[1016,1051],ymax:545,
  datasets:[rawDs(fTopX,fTopY,'#b552d2','#a040c8',1.6,1.4),rawDs(fBotX,fBotY,'#f27830','#e8506a',1.6,1.4),bgDs(fTopBg,'rgba(100,100,180,0.6)'),bgDs(fBotBg,'rgba(100,100,180,0.6)'),
    compDs(fT_Zn3,'rgba(110,150,180,0.95)','rgba(242,110,125,0.95)',2),
    compDs(fT_Zn1,'rgba(232,195,64,0.95)','rgba(80,145,215,0.95)',2),
    compDs(fB_Zn3,'rgba(242,180,58,0.95)','rgba(240,60,60,0.95)',3),
    compDs(fB_Zn1,'rgba(232,195,64,0.95)','rgba(110,110,110,0.95)',3)],
  decor:{major:fTicks,minor:fMinor,letter:['(f)',557,253],labels:[
    {t:'Zn 2p_{3/2}',x:1024.79,y:515,c:'#6a7ab8'},{t:'1021.10',x:1024.54,y:485,c:'#6a7ab8'},
    {t:'Zn 2p',x:1048.24,y:515,c:'#000'},
    {t:'Zn 2p_{1/2}',x:1041.51,y:437,c:'#e8b030'},{t:'1044.11',x:1041.36,y:400,c:'#e8b030'},
    {t:'ZnFe_{2}O_{4}',x:1047.9,y:245,c:'#8c8c8c',b:false},
    {t:'1021.26',x:1024.64,y:235,c:'#f03c3c'},{t:'1044.41',x:1041.36,y:145,c:'#2ea060'},
    {t:COMPOSITE,x:1043.6,y:30,c:'#a13de0'}]}});
</script>
</body></html>
